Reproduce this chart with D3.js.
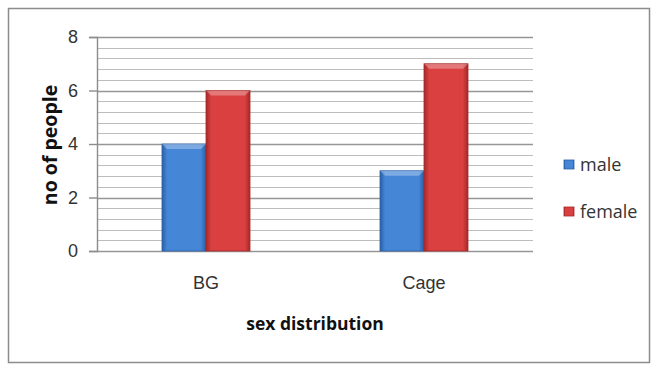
<!DOCTYPE html>
<html>
<head>
<meta charset="utf-8">
<script src="https://cdn.jsdelivr.net/npm/d3@7"></script>
<style>
  body { margin: 0; background: #fff; }
  svg { font-family: "Open Sans", Lato, sans-serif; }
</style>
</head>
<body>
<script>
// Chart data
const categories = ["BG", "Cage"];
const seriesNames = ["male", "female"];
const maleValues = [4, 3];
const femaleValues = [6, 7];
const yTicks = [0, 2, 4, 6, 8];

const w = 654;
const h = 365;
const marginTop = 37;
const marginLeft = 97;
const plotRight = 533;
const plotBottom = 251;

const seriesValues = [maleValues, femaleValues];
const colors = { male: ["#2a60a6", "#4686d6"], female: ["#a62828", "#da4040"] };

const svg = d3.select("body").append("svg").attr("width", w).attr("height", h);

// gradients for the bevelled bars
const defs = svg.append("defs");
seriesNames.forEach((s) => {
  const g = defs.append("linearGradient").attr("id", "grad-" + s)
    .attr("x1", "0").attr("x2", "1").attr("y1", "0").attr("y2", "0");
  g.append("stop").attr("offset", "0%").attr("stop-color", colors[s][0]);
  g.append("stop").attr("offset", "12%").attr("stop-color", colors[s][1]);
  g.append("stop").attr("offset", "88%").attr("stop-color", colors[s][1]);
  g.append("stop").attr("offset", "100%").attr("stop-color", colors[s][0]);
});

// outer frame
svg.append("rect")
  .attr("x", 8.5).attr("y", 8.5)
  .attr("width", w - 13).attr("height", h - 11)
  .attr("fill", "none").attr("stroke", "#8c8c8c").attr("stroke-width", 1.5);

const x0 = d3.scaleBand().domain(categories).range([marginLeft, plotRight]);
const x1 = d3.scaleBand().domain(seriesNames)
  .range([0, x0.bandwidth()]).paddingInner(0).paddingOuter(1.477);
const y = d3.scaleLinear().domain([0, 8]).range([plotBottom, marginTop]);

// gridlines: minor every 0.4, major on labelled ticks
const minor = d3.range(0, 8.01, 0.4);
svg.append("g").selectAll("line").data(minor).enter().append("line")
  .attr("x1", marginLeft).attr("x2", plotRight)
  .attr("y1", (d) => Math.round(y(d)) + 0.5).attr("y2", (d) => Math.round(y(d)) + 0.5)
  .attr("stroke", "#bdbdbd").attr("stroke-width", 1.2);
svg.append("g").selectAll("line").data(yTicks).enter().append("line")
  .attr("x1", marginLeft).attr("x2", plotRight)
  .attr("y1", (d) => Math.round(y(d)) + 0.5).attr("y2", (d) => Math.round(y(d)) + 0.5)
  .attr("stroke", "#969696").attr("stroke-width", 1.4);

// bars
const groups = svg.append("g").selectAll("g").data(categories).enter().append("g")
  .attr("transform", (d) => `translate(${x0(d)},0)`);
groups.selectAll("rect")
  .data((c, ci) => seriesNames.map((s, si) => ({ s, v: seriesValues[si][ci] })))
  .enter().append("rect")
  .attr("x", (d) => x1(d.s))
  .attr("y", (d) => y(d.v))
  .attr("width", x1.bandwidth())
  .attr("height", (d) => plotBottom - y(d.v))
  .attr("fill", (d) => `url(#grad-${d.s})`)
  .attr("stroke", (d) => colors[d.s][0]).attr("stroke-width", 0.8);
// light top bevel
groups.selectAll("path.bevel")
  .data((c, ci) => seriesNames.map((s, si) => ({ s, v: seriesValues[si][ci] })))
  .enter().append("path")
  .attr("class", "bevel")
  .attr("d", (d) => {
    const bx = x1(d.s), by = y(d.v), bw = x1.bandwidth();
    return `M${bx},${by}L${bx + bw},${by}L${bx + bw - 5},${by + 5}L${bx + 5},${by + 5}Z`;
  })
  .attr("fill", "#ffffff").attr("opacity", 0.3);

// y axis
const yAxis = svg.append("g")
  .attr("transform", `translate(${marginLeft},0)`)
  .call(d3.axisLeft(y).tickValues(yTicks).tickSize(8).tickPadding(11));
yAxis.select(".domain").attr("stroke", "#8c8c8c").attr("stroke-width", 1.4);
yAxis.selectAll(".tick line").attr("stroke", "#8c8c8c").attr("stroke-width", 1.4);
yAxis.selectAll(".tick text").attr("font-size", "18px").attr("fill", "#333");

// x axis labels
const xAxis = svg.append("g")
  .attr("transform", `translate(0,${plotBottom})`)
  .call(d3.axisBottom(x0).tickSize(0).tickPadding(25));
xAxis.select(".domain").remove();
xAxis.selectAll(".tick text").attr("font-size", "18px").attr("fill", "#333");

// axis titles
svg.append("text")
  .attr("transform", `translate(57,145) rotate(-90)`)
  .attr("text-anchor", "middle")
  .attr("font-size", "19.5px").attr("font-weight", "bold").attr("fill", "#111")
  .text("no of people");
svg.append("text")
  .attr("x", 315).attr("y", 330)
  .attr("text-anchor", "middle")
  .attr("font-size", "17.5px").attr("font-weight", "bold").attr("fill", "#111")
  .text("sex distribution");

// legend
const legend = svg.append("g").selectAll("g").data(seriesNames).enter().append("g")
  .attr("transform", (d, i) => `translate(564,${160 + i * 47})`);
legend.append("rect")
  .attr("width", 10).attr("height", 9)
  .attr("fill", (d) => `url(#grad-${d})`)
  .attr("stroke", (d) => colors[d][0]).attr("stroke-width", 0.8);
legend.append("text")
  .attr("x", 16).attr("y", 11)
  .attr("font-size", "18px").attr("fill", "#333")
  .text((d) => d);
</script>
</body>
</html>
